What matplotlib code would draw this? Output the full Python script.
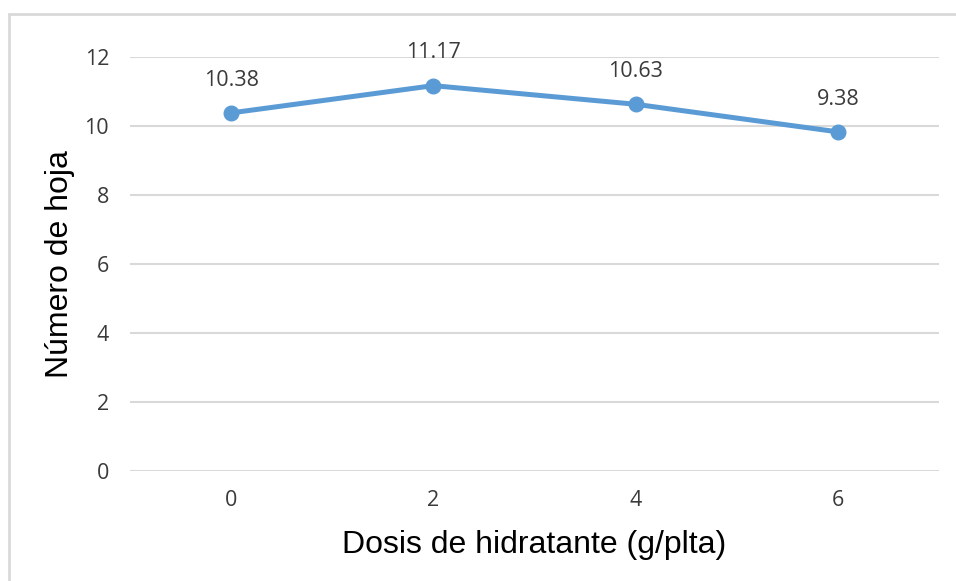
import matplotlib
matplotlib.use('Agg')
import matplotlib.pyplot as plt
from matplotlib.patches import Rectangle

# ── Datos ─────────────────────────────────────────────────────────────────────
dosis = [0, 2, 4, 6]
num_hojas = [10.38, 11.17, 10.63, 9.83]
etiquetas = ["10.38", "11.17", "10.63", "9.38"]
y_ticks = [0, 2, 4, 6, 8, 10, 12]

AZUL = '#5B9BD5'
GRIS = '#D9D9D9'
TEXTO = '#3A3A3A'

fig = plt.figure(figsize=(9.56, 5.81), dpi=100)
ax = fig.add_axes([130 / 956, 1 - 471 / 581, 809 / 956, 414 / 581])

ax.plot(dosis, num_hojas, color=AZUL, linewidth=3.6, marker='o',
        markersize=10.5, solid_capstyle='round', zorder=3)

for x, y, t in zip(dosis, num_hojas, etiquetas):
    ax.annotate(t, (x, y), xytext=(0, 23.5), textcoords='offset points',
                ha='center', va='center', fontsize=15.5, color=TEXTO,
                family='Open Sans')

ax.set_xlim(-1, 7)
ax.set_ylim(0, 12)
ax.set_xticks(dosis)
ax.set_yticks(y_ticks)
ax.tick_params(length=0, labelsize=15.5, labelcolor=TEXTO)
ax.tick_params(axis='x', pad=14)
ax.tick_params(axis='y', pad=15)
for lab in ax.get_xticklabels() + ax.get_yticklabels():
    lab.set_family('Open Sans')

ax.grid(axis='y', color=GRIS, linewidth=1.5)
ax.set_axisbelow(True)
for s in ax.spines.values():
    s.set_visible(False)

ax.set_xlabel('Dosis de hidratante (g/plta)', family='Liberation Sans',
              fontsize=23, color='black', va='center')
ax.xaxis.set_label_coords(0.5, -0.179)
ax.set_ylabel('Número de hoja', family='Liberation Sans',
              fontsize=23, color='black', va='center')
ax.yaxis.set_label_coords(-0.0865, 0.5)

# marco del gráfico (se corta por la derecha y abajo)
fig.add_artist(Rectangle((9 / 956, -0.2), 2, 0.976 + 0.2,
                         transform=fig.transFigure, fill=False,
                         edgecolor=GRIS, linewidth=2))

fig.savefig('out.png', dpi=100)
